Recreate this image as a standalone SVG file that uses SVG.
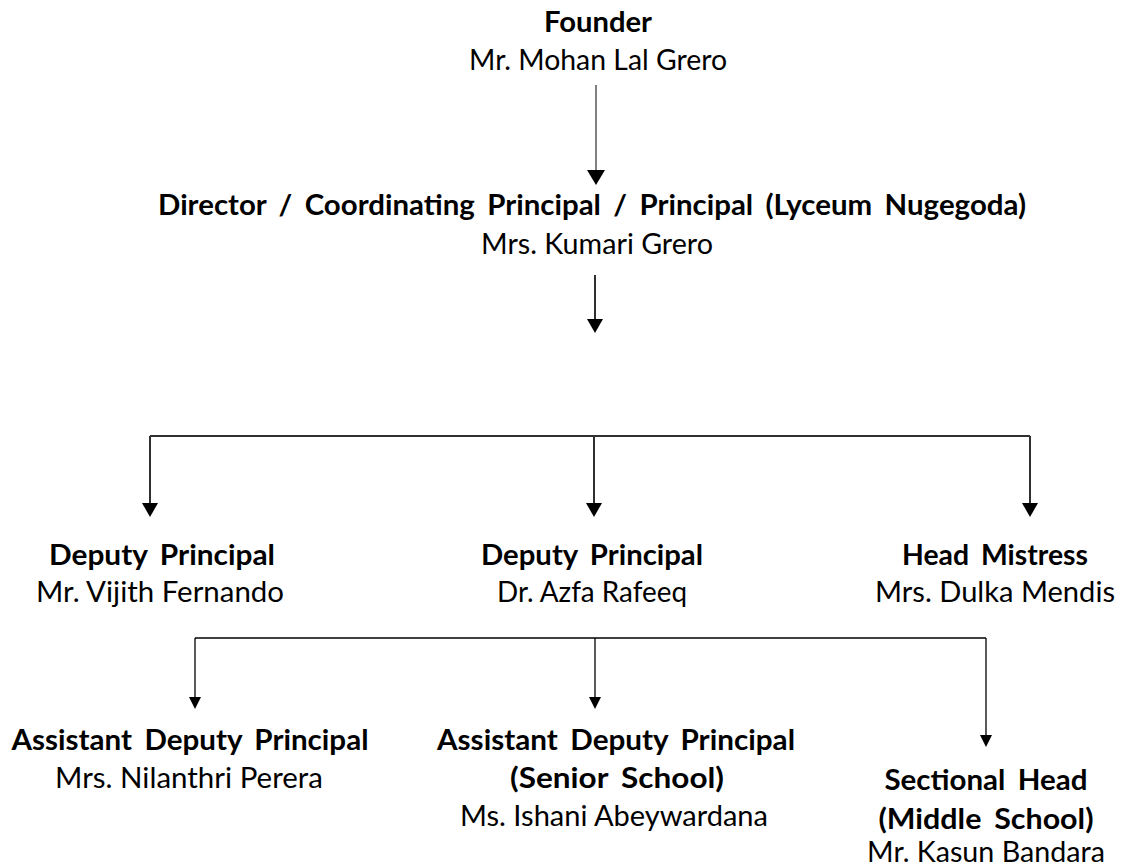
<svg xmlns="http://www.w3.org/2000/svg" width="1139" height="868" viewBox="0 0 1139 868">
<style>
  .t { font-family: Lato, "Liberation Sans", sans-serif; font-size: 28px; fill: #000; text-anchor: middle; }
  .b { font-weight: bold; word-spacing: 5px; }
  .c1 { fill: none; stroke: #303030; stroke-width: 2; }
  .c2 { fill: none; stroke: #000; stroke-width: 1.3; }
  .cg { fill: none; stroke: #808080; stroke-width: 2; }
</style>
<defs>
  <marker id="ah1" markerUnits="userSpaceOnUse" viewBox="0 0 15 18" markerWidth="15" markerHeight="18" refX="9" refY="9" orient="auto">
    <path d="M0,0 L15,9 L0,18 z" fill="#000"/>
  </marker>
  <marker id="ah2" markerUnits="userSpaceOnUse" viewBox="0 0 14 16" markerWidth="14" markerHeight="16" refX="8" refY="8" orient="auto">
    <path d="M0,0 L14,8 L0,16 z" fill="#000"/>
  </marker>
  <marker id="ah3" markerUnits="userSpaceOnUse" viewBox="0 0 12 12" markerWidth="12" markerHeight="12" refX="7" refY="6" orient="auto">
    <path d="M0,0 L12,6 L0,12 z" fill="#000"/>
  </marker>
</defs>
<rect width="1139" height="868" fill="#fff"/>

<g id="connectors">
  <line class="cg" x1="596" y1="85" x2="596" y2="179" marker-end="url(#ah1)"/>
  <line class="c1" x1="595" y1="275" x2="595" y2="327" marker-end="url(#ah2)"/>
  <path class="c1" d="M150,436 H1030"/>
  <line class="c1" x1="150" y1="436" x2="150" y2="511" marker-end="url(#ah2)"/>
  <line class="c1" x1="594" y1="436" x2="594" y2="511" marker-end="url(#ah2)"/>
  <line class="c1" x1="1030" y1="436" x2="1030" y2="511" marker-end="url(#ah2)"/>
  <path class="c2" d="M195,638 H986"/>
  <line class="c2" x1="195" y1="638" x2="195" y2="704" marker-end="url(#ah3)"/>
  <line class="c2" x1="595" y1="638" x2="595" y2="704" marker-end="url(#ah3)"/>
  <line class="c2" x1="986" y1="638" x2="986" y2="742" marker-end="url(#ah3)"/>
</g>

<g id="founder">
  <text class="t b" x="598" y="32" textLength="108" lengthAdjust="spacingAndGlyphs">Founder</text>
  <text class="t" x="598" y="70" textLength="258" lengthAdjust="spacingAndGlyphs">Mr. Mohan Lal Grero</text>
</g>
<g id="director">
  <text class="t b" x="592" y="215" textLength="868" lengthAdjust="spacingAndGlyphs">Director / Coordinating Principal / Principal (Lyceum Nugegoda)</text>
  <text class="t" x="597" y="254" textLength="232" lengthAdjust="spacingAndGlyphs">Mrs. Kumari Grero</text>
</g>
<g id="deputy-left">
  <text class="t b" x="162" y="565" textLength="226" lengthAdjust="spacingAndGlyphs">Deputy Principal</text>
  <text class="t" x="160" y="602" textLength="248" lengthAdjust="spacingAndGlyphs">Mr. Vijith Fernando</text>
</g>
<g id="deputy-middle">
  <text class="t b" x="592" y="565" textLength="222" lengthAdjust="spacingAndGlyphs">Deputy Principal</text>
  <text class="t" x="592" y="602" textLength="190" lengthAdjust="spacingAndGlyphs">Dr. Azfa Rafeeq</text>
</g>
<g id="head-mistress">
  <text class="t b" x="995" y="565" textLength="186" lengthAdjust="spacingAndGlyphs">Head Mistress</text>
  <text class="t" x="995" y="602" textLength="240" lengthAdjust="spacingAndGlyphs">Mrs. Dulka Mendis</text>
</g>
<g id="assistant-left">
  <text class="t b" x="190" y="750" textLength="357" lengthAdjust="spacingAndGlyphs">Assistant Deputy Principal</text>
  <text class="t" x="189" y="788" textLength="268" lengthAdjust="spacingAndGlyphs">Mrs. Nilanthri Perera</text>
</g>
<g id="assistant-middle">
  <text class="t b" x="616" y="750" textLength="358" lengthAdjust="spacingAndGlyphs">Assistant Deputy Principal</text>
  <text class="t b" x="617" y="788" textLength="214" lengthAdjust="spacingAndGlyphs">(Senior School)</text>
  <text class="t" x="614" y="826" textLength="308" lengthAdjust="spacingAndGlyphs">Ms. Ishani Abeywardana</text>
</g>
<g id="sectional-head">
  <text class="t b" x="986" y="790" textLength="203" lengthAdjust="spacingAndGlyphs">Sectional Head</text>
  <text class="t b" x="986" y="829" textLength="215" lengthAdjust="spacingAndGlyphs">(Middle School)</text>
  <text class="t" x="986" y="862" textLength="238" lengthAdjust="spacingAndGlyphs">Mr. Kasun Bandara</text>
</g>
</svg>
